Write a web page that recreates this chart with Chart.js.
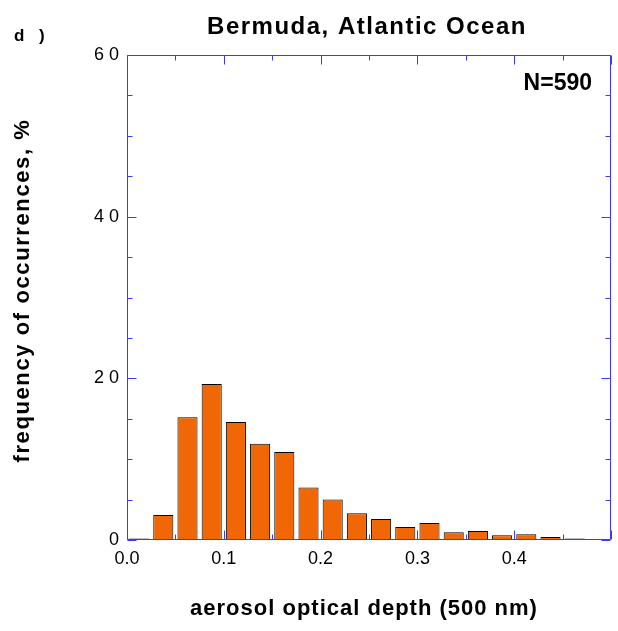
<!DOCTYPE html>
<html>
<head>
<meta charset="utf-8">
<script src="https://cdn.jsdelivr.net/npm/chart.js@4"></script>
<style>
    html, body { margin: 0; padding: 0; background: #ffffff; }
</style>
</head>
<body>
<canvas id="chartAod" width="618" height="631"></canvas>
<script>
// ===== Data (bin width 0.025) =====
const binCenters = [0.0125, 0.0375, 0.0625, 0.0875, 0.1125, 0.1375, 0.1625, 0.1875, 0.2125, 0.2375,
                    0.2625, 0.2875, 0.3125, 0.3375, 0.3625, 0.3875, 0.4125, 0.4375, 0.4625];
const freqPercent = [0.2, 3.1, 15.2, 19.3, 14.6, 11.9, 10.9, 6.5, 5.0, 3.3,
                     2.6, 1.6, 2.1, 0.95, 1.1, 0.6, 0.7, 0.37, 0.2];
const xTickValues = [0, 0.1, 0.2, 0.3, 0.4];
const xTickLabels = ['0.0', '0.1', '0.2', '0.3', '0.4'];
const yTickValues = [0, 20, 40, 60];
const yTickLabels = ['0', '2 0', '4 0', '6 0'];

const axisBlue = '#3a3aff';
const barOrange = '#f26705';
const fontFam = "'Liberation Sans', Arial, Helvetica, sans-serif";

// ===== Frame with inward tick marks on all four sides =====
const frameTicks = {
    id: 'frameTicks',
    afterDatasetsDraw(chart) {
        const { ctx, chartArea: a, scales: { x, y } } = chart;
        const L = Math.round(a.left) + 0.5, R = Math.round(a.right) - 0.5;
        const T = Math.round(a.top) + 0.5, B = Math.round(a.bottom) - 0.5;
        ctx.save();
        ctx.strokeStyle = axisBlue;
        ctx.lineWidth = 1;
        ctx.beginPath();
        ctx.rect(L, T, R - L, B - T);
        for (let i = 0; i <= 10; i++) {
            const px = Math.round(x.getPixelForValue(i * 0.05)) + 0.5;
            const len = i % 2 === 0 ? 9 : 5;
            ctx.moveTo(px, B); ctx.lineTo(px, B - len);
            ctx.moveTo(px, T); ctx.lineTo(px, T + len);
        }
        for (let i = 0; i <= 12; i++) {
            const py = Math.round(y.getPixelForValue(i * 5)) + 0.5;
            const len = i % 4 === 0 ? 9 : 5;
            ctx.moveTo(L, py); ctx.lineTo(L + len, py);
            ctx.moveTo(R, py); ctx.lineTo(R - len, py);
        }
        ctx.stroke();
        ctx.restore();
    }
};

// ===== Titles and annotations =====
const textLayer = {
    id: 'textLayer',
    afterDraw(chart) {
        const { ctx, chartArea: a } = chart;
        const cx = (a.left + a.right) / 2;
        const cy = (a.top + a.bottom) / 2;
        ctx.save();
        ctx.fillStyle = '#000000';
        ctx.textBaseline = 'middle';

        ctx.textAlign = 'center';
        ctx.font = 'bold 24px ' + fontFam;
        ctx.letterSpacing = '1.5px';
        ctx.fillText('Bermuda, Atlantic Ocean', cx - 2, 27);

        ctx.font = 'bold 22px ' + fontFam;
        ctx.letterSpacing = '1px';
        ctx.fillText('aerosol optical depth (500 nm)', cx - 5, 609);

        ctx.save();
        ctx.translate(23, cy - 7);
        ctx.rotate(-Math.PI / 2);
        ctx.letterSpacing = '1.6px';
        ctx.fillText('frequency of occurrences, %', 0, 0);
        ctx.restore();

        ctx.letterSpacing = '0px';
        ctx.textAlign = 'right';
        ctx.font = 'bold 23px ' + fontFam;
        ctx.fillText('N=590', 592, 84);

        ctx.textAlign = 'left';
        ctx.font = 'bold 17px ' + fontFam;
        ctx.letterSpacing = '5px';
        ctx.fillText('d )', 14, 36);
        ctx.restore();
    }
};

const ctx = document.getElementById('chartAod');
new Chart(ctx, {
    type: 'bar',
    data: {
        datasets: [{
            label: 'frequency of occurrences, %',
            data: binCenters.map((c, i) => ({ x: c, y: freqPercent[i] })),
            backgroundColor: barOrange,
            borderColor: '#000000',
            borderWidth: 1,
            barPercentage: 0.83,
            categoryPercentage: 1.0
        }]
    },
    options: {
        responsive: false,
        animation: false,
        layout: { padding: { top: 55, right: 7, bottom: 0, left: 0 } },
        plugins: {
            legend: { display: false },
            title: { display: false },
            tooltip: { enabled: false }
        },
        scales: {
            x: {
                type: 'linear',
                offset: false,
                min: 0,
                max: 0.5,
                grid: { display: false, drawTicks: false },
                border: { display: false },
                afterBuildTicks: (scale) => { scale.ticks = xTickValues.map(v => ({ value: v })); },
                afterFit: (scale) => { scale.height = 91; },
                ticks: {
                    maxRotation: 0,
                    autoSkip: false,
                    padding: 8,
                    color: '#000000',
                    font: { family: fontFam, size: 18 },
                    callback: (v, i) => xTickLabels[i]
                }
            },
            y: {
                min: 0,
                max: 60,
                grid: { display: false, drawTicks: false },
                border: { display: false },
                afterBuildTicks: (scale) => { scale.ticks = yTickValues.map(v => ({ value: v })); },
                afterFit: (scale) => { scale.width = 127; },
                ticks: {
                    autoSkip: false,
                    padding: 8,
                    color: '#000000',
                    font: { family: fontFam, size: 18 },
                    callback: (v, i) => yTickLabels[i]
                }
            }
        }
    },
    plugins: [frameTicks, textLayer]
});
</script>
</body>
</html>
